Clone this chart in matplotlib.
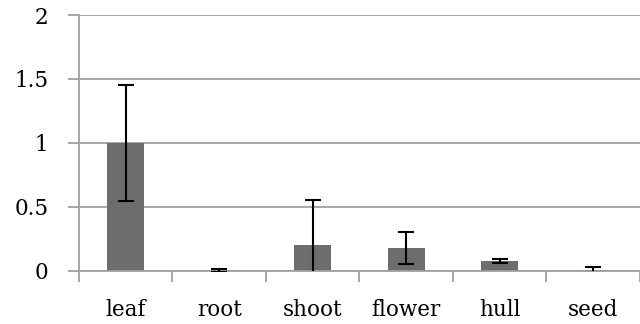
import matplotlib.pyplot as plt
import numpy as np

tissues = ['leaf', 'root', 'shoot', 'flower', 'hull', 'seed']
expression = [1.0, 0.004, 0.20, 0.18, 0.077, 0.006]
sd = [0.45, 0.008, 0.355, 0.125, 0.017, 0.024]

plt.rcParams['font.family'] = 'DejaVu Serif'

fig = plt.figure(figsize=(6.4, 3.24), dpi=100)
ax = fig.add_axes([0.1234, 0.1636, 0.8766, 0.7901])

x = np.arange(len(tissues))
ax.bar(x, expression, width=0.4, color='#6d6d6d', zorder=2)
ax.errorbar(x, expression, yerr=sd, fmt='none', ecolor='black',
            elinewidth=1.5, capsize=5.5, capthick=1.5, zorder=3)

ax.set_xlim(-0.5, len(tissues) - 0.5)
ax.set_ylim(0, 2)
ax.set_yticks([0, 0.5, 1, 1.5, 2])
ax.set_yticklabels(['0', '0.5', '1', '1.5', '2'])
ax.yaxis.grid(True, color='#a0a0a0', linewidth=1.3, zorder=0)

ax.set_xticks(x)
ax.set_xticklabels(tissues)
ax.set_xticks(np.arange(len(tissues) + 1) - 0.5, minor=True)
ax.tick_params(axis='x', which='major', length=0, pad=20, labelsize=15.5)
ax.tick_params(axis='x', which='minor', length=8, width=1.3, color='#a0a0a0')
ax.tick_params(axis='y', length=8, width=1.3, color='#a0a0a0', pad=14, labelsize=15.5)

for side in ['top', 'right']:
    ax.spines[side].set_visible(False)
for side in ['left', 'bottom']:
    ax.spines[side].set_color('#a0a0a0')
    ax.spines[side].set_linewidth(1.3)

fig.savefig('out.png', dpi=100)
